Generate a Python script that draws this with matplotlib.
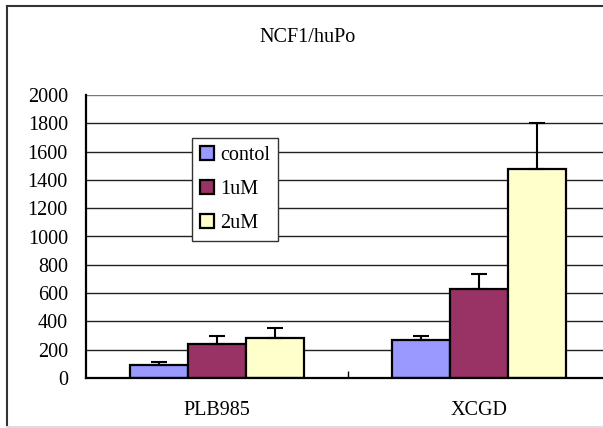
import matplotlib
matplotlib.use("Agg")
import matplotlib.pyplot as plt
import numpy as np
from matplotlib.patches import Patch
from matplotlib.lines import Line2D

categories = ["PLB985", "XCGD"]
series_names = ["contol", "1uM", "2uM"]
values = {
    "contol": [95, 269],
    "1uM": [243, 627],
    "2uM": [283, 1477],
}
errors = {
    "contol": [16, 28],
    "1uM": [52, 106],
    "2uM": [68, 328],
}
colors = {"contol": "#9999FF", "1uM": "#993366", "2uM": "#FFFFCC"}
yticks = list(range(0, 2001, 200))

plt.rcParams["font.family"] = ["Liberation Serif", "DejaVu Serif"]
W, H = 603, 428
fig = plt.figure(figsize=(W / 100, H / 100), dpi=100)
fig.patch.set_facecolor("white")

ax = fig.add_axes([86 / W, 1 - 378 / H, 524 / W, 283 / H])
ax.set_facecolor("white")

x = np.arange(len(categories))
bw = 1 / 4.5
for i, name in enumerate(series_names):
    pos = x + (i - 1) * bw
    ax.bar(pos, values[name], width=bw, color=colors[name], edgecolor="black",
           linewidth=1.6, zorder=3)
    ax.errorbar(pos, values[name], yerr=[np.zeros(len(categories)), errors[name]],
                fmt="none", ecolor="black", elinewidth=1.5, capsize=5.5,
                capthick=1.5, zorder=4)

ax.set_xlim(-0.5, 1.5)
ax.set_ylim(0, 2000)
ax.set_yticks(yticks)
ax.set_yticklabels([str(v) for v in yticks], fontsize=14.5)
ax.tick_params(axis="y", length=0, pad=13)
ax.set_xticks([0.5, 1.5], minor=False)
ax.set_xticklabels(["", ""])
ax.tick_params(axis="x", direction="in", length=5, width=1, color="black")
for xi, c in zip(x, categories):
    ax.text(xi, -0.115, c, transform=ax.get_xaxis_transform(), ha="center",
            va="center", fontsize=14.5)

for v in yticks[1:]:
    ax.axhline(v, color="#222222" if v < 2000 else "#777777", linewidth=1.0, zorder=1)

for s in ["top", "right"]:
    ax.spines[s].set_visible(False)
ax.spines["left"].set_linewidth(1.6)
ax.spines["bottom"].set_linewidth(1.6)
ax.spines["left"].set_zorder(5)
ax.spines["bottom"].set_zorder(5)

fig.text(308 / W, 1 - 38 / H, "NCF1/huPo", ha="center", va="center", fontsize=14.5)

handles = [Patch(facecolor=colors[n], edgecolor="black", linewidth=1.6) for n in series_names]
leg = fig.legend(handles, series_names, loc="upper left",
                 bbox_to_anchor=(192 / W, 1 - 138 / H), borderaxespad=0,
                 fontsize=14.5, fancybox=False, framealpha=1, edgecolor="#333333",
                 handlelength=0.72, handleheight=0.72, handletextpad=0.3,
                 labelspacing=0.74, borderpad=0.38)
leg.get_frame().set_linewidth(1.0)

# outer chart frame
fig.add_artist(Line2D([6.5 / W, 6.5 / W], [1 - 5.5 / H, 1 - 426.5 / H], color="#333333", linewidth=1.5))
fig.add_artist(Line2D([6.5 / W, 1], [1 - 5.5 / H, 1 - 5.5 / H], color="#333333", linewidth=1.5))
fig.add_artist(Line2D([6.5 / W, 1], [1 - 426.5 / H, 1 - 426.5 / H], color="#dddddd", linewidth=1.5))

fig.savefig("out.png", dpi=100, facecolor="white")
